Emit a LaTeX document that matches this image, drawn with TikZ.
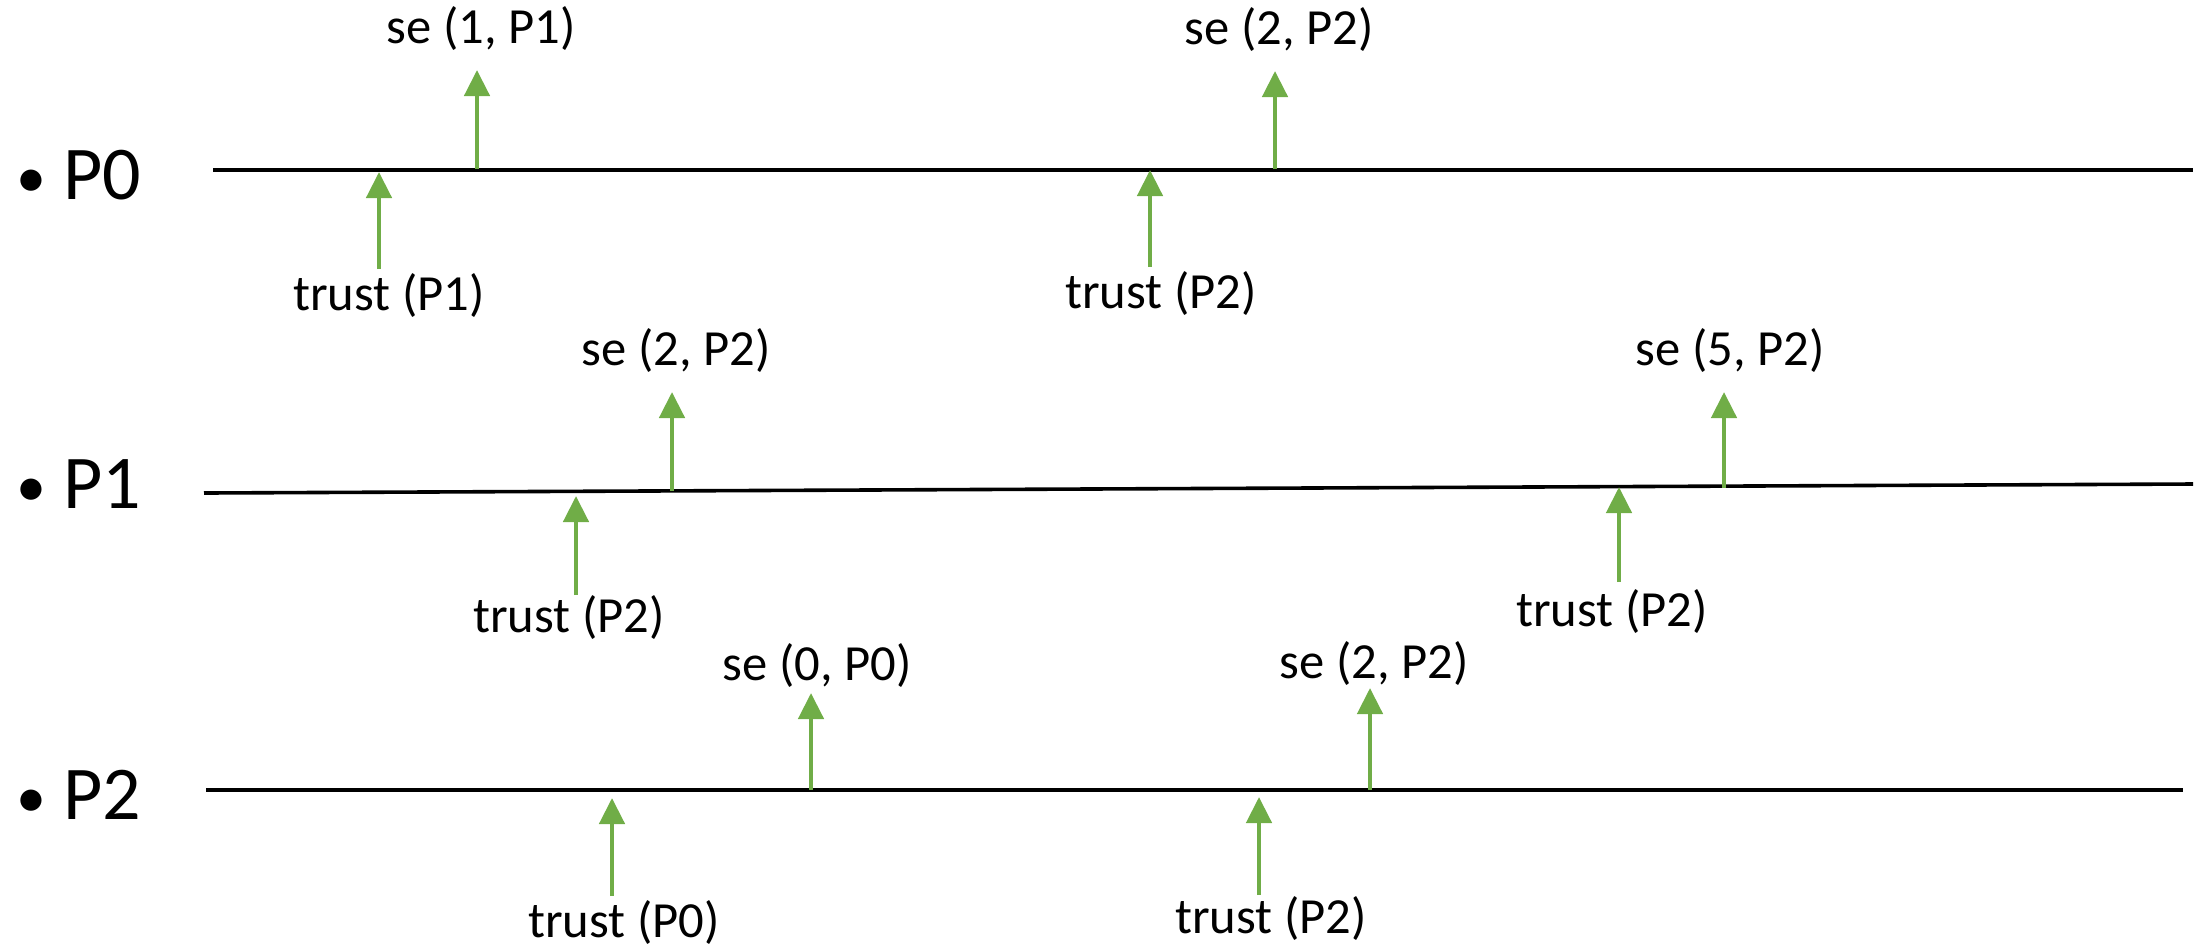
\documentclass[tikz,border=0pt]{standalone}
\usepackage{fontspec}
\setmainfont{Carlito}
\usetikzlibrary{arrows.meta}
\definecolor{evgreen}{HTML}{70AD47}
\begin{document}
\begin{tikzpicture}[x=0.5pt, y=-0.5pt,
  timeline/.style={draw=black, line width=1.8pt},
  evt/.style={draw=evgreen, line width=2.3pt, -{Triangle[width=12.5pt,length=13pt]}},
  lbl/.style={font=\fontsize{25.3}{30}\selectfont, inner sep=0pt, anchor=base},
  bullet/.style={font=\fontsize{30}{36}\selectfont, inner sep=0pt, anchor=base west},
  proc/.style={font=\fontsize{38}{44}\selectfont, inner sep=0pt, anchor=base west}]
\useasboundingbox (0,0) rectangle (2201,950);

% process names
\node[bullet] (b0) at (16,197) {•};
\node[proc] (n0) at (63,199) {P0};
\node[bullet] (b1) at (16,506) {•};
\node[proc] (n1) at (63,508) {P1};
\node[bullet] (b2) at (16,817) {•};
\node[proc] (n2) at (63,819) {P2};

% timelines
\coordinate (l0a) at (213,170); \coordinate (l0b) at (2193,170);
\coordinate (l1a) at (204,493); \coordinate (l1b) at (2193,484);
\coordinate (l2a) at (206,790); \coordinate (l2b) at (2183,790);
\draw[timeline] (l0a) -- (l0b);
\draw[timeline] (l1a) -- (l1b);
\draw[timeline] (l2a) -- (l2b);

% P0 events
\coordinate (p0t1s) at (379,269); \coordinate (p0t1e) at (379,172);
\coordinate (p0s1s) at (477,169); \coordinate (p0s1e) at (477,70);
\coordinate (p0t2s) at (1150,267); \coordinate (p0t2e) at (1150,170);
\coordinate (p0s2s) at (1275,169); \coordinate (p0s2e) at (1275,71);
\draw[evt] (p0t1s) -- (p0t1e);
\draw[evt] (p0s1s) -- (p0s1e);
\draw[evt] (p0t2s) -- (p0t2e);
\draw[evt] (p0s2s) -- (p0s2e);
\node[lbl] (p0s1) at (481,43) {se (1, P1)};
\node[lbl] (p0t1) at (389,310) {trust (P1)};
\node[lbl] (p0s2) at (1279,44) {se (2, P2)};
\node[lbl] (p0t2) at (1161,308) {trust (P2)};

% P1 events
\coordinate (p1t1s) at (576,595); \coordinate (p1t1e) at (576,496);
\coordinate (p1s1s) at (672,491); \coordinate (p1s1e) at (672,392);
\coordinate (p1t2s) at (1619,582); \coordinate (p1t2e) at (1619,487);
\coordinate (p1s2s) at (1724,488); \coordinate (p1s2e) at (1724,392);
\draw[evt] (p1t1s) -- (p1t1e);
\draw[evt] (p1s1s) -- (p1s1e);
\draw[evt] (p1t2s) -- (p1t2e);
\draw[evt] (p1s2s) -- (p1s2e);
\node[lbl] (p1s1) at (676,365) {se (2, P2)};
\node[lbl] (p1t1) at (569,632) {trust (P2)};
\node[lbl] (p1s2) at (1730,365) {se (5, P2)};
\node[lbl] (p1t2) at (1612,626) {trust (P2)};

% P2 events
\coordinate (p2t1s) at (612,896); \coordinate (p2t1e) at (612,798);
\coordinate (p2s1s) at (811,790); \coordinate (p2s1e) at (811,693);
\coordinate (p2t2s) at (1259,895); \coordinate (p2t2e) at (1259,797);
\coordinate (p2s2s) at (1370,790); \coordinate (p2s2e) at (1370,688);
\draw[evt] (p2t1s) -- (p2t1e);
\draw[evt] (p2s1s) -- (p2s1e);
\draw[evt] (p2t2s) -- (p2t2e);
\draw[evt] (p2s2s) -- (p2s2e);
\node[lbl] (p2s1) at (817,680) {se (0, P0)};
\node[lbl] (p2t1) at (624,937) {trust (P0)};
\node[lbl] (p2s2) at (1374,678) {se (2, P2)};
\node[lbl] (p2t2) at (1271,933) {trust (P2)};
\end{tikzpicture}
\end{document}
